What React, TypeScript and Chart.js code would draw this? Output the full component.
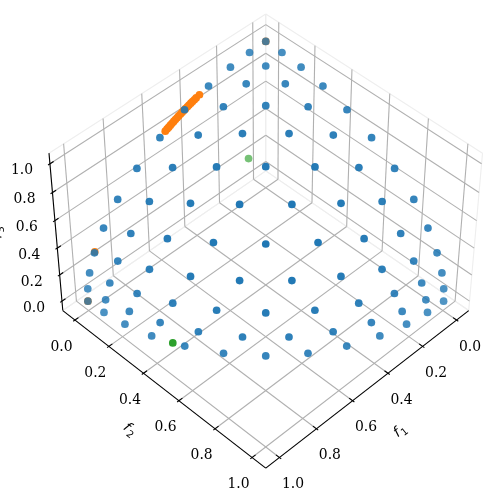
import React, { useEffect, useRef } from "react";
import { Chart, registerables } from "chart.js";

Chart.register(...registerables);

const tickValues = [0, 0.2, 0.4, 0.6, 0.8, 1.0];
const tickLabels = ["0.0", "0.2", "0.4", "0.6", "0.8", "1.0"];

const blueF1 = [
  0, 0, 0, 0, 0, 0, 0, 0, 0, 0, 0, 0, 0,
  0.0905, 0.099, 0.1078, 0.1162, 0.1231, 0.127, 0.127, 0.1231, 0.1162, 0.1078, 0.099, 0.0905,
  0.1961, 0.2157, 0.2357, 0.254, 0.2673, 0.2722, 0.2673, 0.254, 0.2357, 0.2157, 0.1961,
  0.3162, 0.3487, 0.381, 0.4082, 0.4243, 0.4243, 0.4082, 0.381, 0.3487, 0.3162,
  0.4472, 0.4924, 0.5345, 0.5657, 0.5774, 0.5657, 0.5345, 0.4924, 0.4472,
  0.5812, 0.635, 0.6804, 0.7071, 0.7071, 0.6804, 0.635, 0.5812,
  0.7071, 0.762, 0.8018, 0.8165, 0.8018, 0.762, 0.7071,
  0.8137, 0.8616, 0.889, 0.889, 0.8616, 0.8137,
  0.8944, 0.93, 0.9428, 0.93, 0.8944,
  0.9487, 0.9705, 0.9705, 0.9487,
  0.9806, 0.9901, 0.9806,
  0.9959, 0.9959,
  1,
];
const blueF2 = [
  0, 0.0905, 0.1961, 0.3162, 0.4472, 0.5812, 0.7071, 0.8137, 0.8944, 0.9487, 0.9806, 0.9959, 1,
  0, 0.099, 0.2157, 0.3487, 0.4924, 0.635, 0.762, 0.8616, 0.93, 0.9705, 0.9901, 0.9959,
  0, 0.1078, 0.2357, 0.381, 0.5345, 0.6804, 0.8018, 0.889, 0.9428, 0.9705, 0.9806,
  0, 0.1162, 0.254, 0.4082, 0.5657, 0.7071, 0.8165, 0.889, 0.93, 0.9487,
  0, 0.1231, 0.2673, 0.4243, 0.5774, 0.7071, 0.8018, 0.8616, 0.8944,
  0, 0.127, 0.2722, 0.4243, 0.5657, 0.6804, 0.762, 0.8137,
  0, 0.127, 0.2673, 0.4082, 0.5345, 0.635, 0.7071,
  0, 0.1231, 0.254, 0.381, 0.4924, 0.5812,
  0, 0.1162, 0.2357, 0.3487, 0.4472,
  0, 0.1078, 0.2157, 0.3162,
  0, 0.099, 0.1961,
  0, 0.0905,
  0,
];
const blueF3 = [
  1, 0.9959, 0.9806, 0.9487, 0.8944, 0.8137, 0.7071, 0.5812, 0.4472, 0.3162, 0.1961, 0.0905, 0,
  0.9959, 0.9901, 0.9705, 0.93, 0.8616, 0.762, 0.635, 0.4924, 0.3487, 0.2157, 0.099, 0,
  0.9806, 0.9705, 0.9428, 0.889, 0.8018, 0.6804, 0.5345, 0.381, 0.2357, 0.1078, 0,
  0.9487, 0.93, 0.889, 0.8165, 0.7071, 0.5657, 0.4082, 0.254, 0.1162, 0,
  0.8944, 0.8616, 0.8018, 0.7071, 0.5774, 0.4243, 0.2673, 0.1231, 0,
  0.8137, 0.762, 0.6804, 0.5657, 0.4243, 0.2722, 0.127, 0,
  0.7071, 0.635, 0.5345, 0.4082, 0.2673, 0.127, 0,
  0.5812, 0.4924, 0.381, 0.254, 0.1231, 0,
  0.4472, 0.3487, 0.2357, 0.1162, 0,
  0.3162, 0.2157, 0.1078, 0,
  0.1961, 0.099, 0,
  0.0905, 0,
  0,
];

const orangeF1 = [0.552, 0.542, 0.533, 0.524, 0.515, 0.506, 0.497, 0.488, 0.479, 0.469, 0.46, 0.451, 0.442, 0.432, 0.423, 0.413, 0.404, 0.394, 0.384, 0.366, 0.947, 0, 1];
const orangeF2 = [0, 0, 0, 0, 0, 0, 0, 0, 0, 0, 0, 0, 0, 0, 0, 0, 0, 0, 0, 0, 0, 0, 0];
const orangeF3 = [0.834, 0.841, 0.846, 0.852, 0.857, 0.863, 0.868, 0.873, 0.878, 0.883, 0.888, 0.893, 0.897, 0.902, 0.906, 0.911, 0.915, 0.919, 0.923, 0.93, 0.322, 1, 0];

const greenF1 = [0.916, 0.1];
const greenF2 = [0.402, 0];
const greenF3 = [0, 0.24];

const WIDTH = 500;
const HEIGHT = 502;
const CX = 266;
const CY = 234.2;
const SCALE = 2428;
const DIST = 10;
const ELEV = (45 * Math.PI) / 180;
const AZIM = (45 * Math.PI) / 180;
const BOX = [1.1905, 1.1905, 0.8929];
const LO = -0.05;
const HI = 1.05;
const PANE = (HI - LO) / 48;
const PMIN = LO - PANE;
const PMAX = HI + PANE;

const W = [Math.cos(ELEV) * Math.cos(AZIM), Math.cos(ELEV) * Math.sin(AZIM), Math.sin(ELEV)];
const U = [-Math.sin(AZIM), Math.cos(AZIM), 0];
const Vv = [
  W[1] * U[2] - W[2] * U[1],
  W[2] * U[0] - W[0] * U[2],
  W[0] * U[1] - W[1] * U[0],
];
const dot = (a: number[], b: number[]) => a[0] * b[0] + a[1] * b[1] + a[2] * b[2];
const rel = (p: number[]) => p.map((v, i) => ((v - LO) / (HI - LO) - 0.5) * BOX[i]);

function project(p: number[]) {
  const r = rel(p);
  const d = DIST - dot(W, r);
  return { x: dot(U, r) / d, y: dot(Vv, r) / d };
}
const depthOf = (p: number[]) => dot(W, rel(p));

function lineDataset(a: number[], b: number[], color: string, width: number, order: number) {
  return {
    type: "line" as const,
    data: [project(a), project(b)],
    borderColor: color,
    borderWidth: width,
    pointRadius: 0,
    showLine: true,
    fill: false,
    order,
    clip: false as const,
  };
}

function pointDataset(xs: number[], ys: number[], zs: number[], rgb: string, alphaMin: number, order: number) {
  const pts = xs.map((x, i) => [x, ys[i], zs[i]]);
  const ds = pts.map(depthOf);
  const lo = Math.min(...ds);
  const hi = Math.max(...ds);
  return {
    type: "scatter" as const,
    data: pts.map(project),
    pointRadius: 3.85,
    pointHoverRadius: 3.85,
    pointBorderWidth: 0,
    pointBackgroundColor: ds.map((d) => `rgba(${rgb},${alphaMin + (1 - alphaMin) * ((d - lo) / (hi - lo))})`),
    showLine: false,
    order,
    clip: false as const,
  };
}

function buildDatasets() {
  const out: any[] = [];
  const edge = "rgb(238,238,238)";
  const grid = "#b0b0b0";
  const rects = [
    [[PMIN, PMIN, PMIN], [PMAX, PMIN, PMIN], [PMAX, PMAX, PMIN], [PMIN, PMAX, PMIN]],
    [[PMIN, PMIN, PMIN], [PMAX, PMIN, PMIN], [PMAX, PMIN, PMAX], [PMIN, PMIN, PMAX]],
    [[PMIN, PMIN, PMIN], [PMIN, PMAX, PMIN], [PMIN, PMAX, PMAX], [PMIN, PMIN, PMAX]],
  ];
  rects.forEach((r) => r.forEach((a, i) => out.push(lineDataset(a, r[(i + 1) % 4], edge, 1.1, 30))));
  tickValues.forEach((t) => {
    out.push(lineDataset([t, PMIN, PMIN], [t, PMAX, PMIN], grid, 1.1, 20));
    out.push(lineDataset([t, PMIN, PMIN], [t, PMIN, PMAX], grid, 1.1, 20));
    out.push(lineDataset([PMIN, t, PMIN], [PMAX, t, PMIN], grid, 1.1, 20));
    out.push(lineDataset([PMIN, t, PMIN], [PMIN, t, PMAX], grid, 1.1, 20));
    out.push(lineDataset([PMIN, PMIN, t], [PMAX, PMIN, t], grid, 1.1, 20));
    out.push(lineDataset([PMIN, PMIN, t], [PMIN, PMAX, t], grid, 1.1, 20));
  });
  const black = "#000000";
  out.push(lineDataset([PMIN, PMAX, PMIN], [PMAX, PMAX, PMIN], black, 1.1, 10));
  out.push(lineDataset([PMAX, PMIN, PMIN], [PMAX, PMAX, PMIN], black, 1.1, 10));
  out.push(lineDataset([PMAX, PMIN, PMIN], [PMAX, PMIN, PMAX], black, 1.1, 10));
  const tIn = 0.0185;
  const tOut = 0.0095;
  tickValues.forEach((t) => {
    out.push(lineDataset([t, PMAX - tIn, PMIN], [t, PMAX + tOut, PMIN], black, 1.1, 10));
    out.push(lineDataset([PMAX - tIn, t, PMIN], [PMAX + tOut, t, PMIN], black, 1.1, 10));
    out.push(lineDataset([PMAX - tIn, PMIN, t], [PMAX + tOut, PMIN, t], black, 1.1, 10));
  });
  out.push(pointDataset(orangeF1, orangeF2, orangeF3, "255,127,14", 0.95, 5));
  out.push(pointDataset(greenF1, greenF2, greenF3, "44,160,44", 0.65, 4));
  out.push(pointDataset(blueF1, blueF2, blueF3, "31,119,180", 0.78, 3));
  return out;
}

const labelsPlugin = {
  id: "axisText",
  afterDatasetsDraw(chart: any) {
    const { ctx, scales } = chart;
    const px = (p: number[]) => {
      const q = project(p);
      return [scales.x.getPixelForValue(q.x), scales.y.getPixelForValue(q.y)];
    };
    ctx.save();
    ctx.fillStyle = "#000";
    ctx.textAlign = "center";
    ctx.textBaseline = "middle";
    ctx.font = "13.9px 'DejaVu Serif'";
    tickValues.forEach((t, i) => {
      const a = px([t, PMAX, PMIN]);
      ctx.fillText(tickLabels[i], a[0] + 13.5, a[1] + 27);
      const b = px([PMAX, t, PMIN]);
      ctx.fillText(tickLabels[i], b[0] - 13.5, b[1] + 27);
      const c = px([PMAX, PMIN, t]);
      ctx.fillText(tickLabels[i], c[0] - 28, c[1] + 7);
    });
    const axisTitle = (x: number, y: number, rot: number, sub: string) => {
      ctx.save();
      ctx.translate(x, y);
      ctx.rotate((rot * Math.PI) / 180);
      ctx.textAlign = "left";
      ctx.textBaseline = "alphabetic";
      ctx.font = "italic 14px 'DejaVu Sans'";
      ctx.fillText("f", -7, 4);
      ctx.font = "10px 'DejaVu Sans'";
      ctx.fillText(sub, -1, 7);
      ctx.restore();
    };
    axisTitle(400.5, 430, -38, "1");
    axisTitle(130.5, 430, 38, "2");
    axisTitle(-3, 232, -94, "3");
    ctx.restore();
  },
};

export default function App() {
  const ref = useRef<HTMLCanvasElement>(null);
  useEffect(() => {
    const chart = new Chart(ref.current as HTMLCanvasElement, {
      type: "scatter",
      data: { datasets: buildDatasets() },
      options: {
        responsive: false,
        animation: false,
        layout: { padding: 0 },
        plugins: { legend: { display: false }, tooltip: { enabled: false } },
        events: [],
        scales: {
          x: { type: "linear", display: false, min: -CX / SCALE, max: (WIDTH - CX) / SCALE },
          y: { type: "linear", display: false, min: (CY - HEIGHT) / SCALE, max: CY / SCALE },
        },
      },
      plugins: [labelsPlugin],
    } as any);
    return () => chart.destroy();
  }, []);
  return (
    <div style={{ position: "absolute", left: 0, top: 0, width: WIDTH, height: HEIGHT, background: "#fff" }}>
      <canvas ref={ref} width={WIDTH} height={HEIGHT} style={{ display: "block" }} />
    </div>
  );
}
